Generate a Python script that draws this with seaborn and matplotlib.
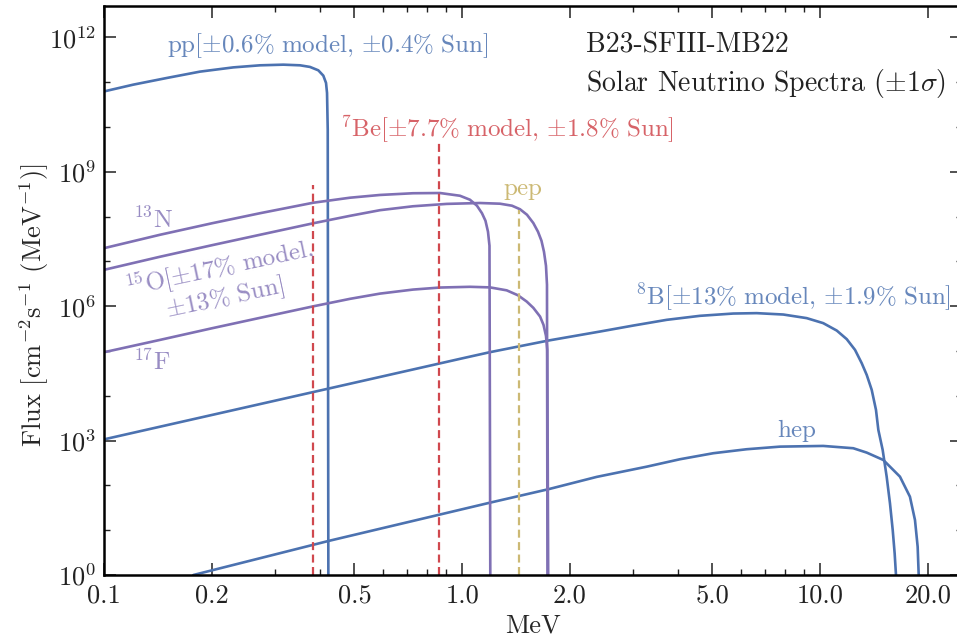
import matplotlib
matplotlib.use("Agg")
import matplotlib.pyplot as plt
import seaborn as sns
from matplotlib.ticker import FixedLocator, FixedFormatter, NullFormatter

# Solar neutrino spectra: energy in MeV, flux in cm^-2 s^-1 MeV^-1
pp_energy = [0.100, 0.1205, 0.1494, 0.1851, 0.2294, 0.2724, 0.3164, 0.3524, 0.3756, 0.3963,
             0.4093, 0.4165, 0.4192, 0.4211, 0.4228]
pp_flux = [6.24e10, 8.81e10, 1.24e11, 1.72e11, 2.14e11, 2.38e11, 2.46e11, 2.38e11, 2.19e11, 1.84e11,
           1.40e11, 9.62e10, 5.74e10, 8.71e9, 0.78]

n13_energy = [0.100, 0.1431, 0.200, 0.2724, 0.3837, 0.486, 0.5893, 0.7289, 0.867, 0.9861,
              1.0515, 1.100, 1.1361, 1.162, 1.1809, 1.1924, 1.1987]
n13_flux = [1.98e7, 3.93e7, 7.10e7, 1.19e8, 2.04e8, 2.64e8, 3.04e8, 3.32e8, 3.36e8, 2.92e8,
            2.38e8, 1.75e8, 1.19e8, 8.07e7, 4.61e7, 2.24e7, 0.77]

o15_energy = [0.100, 0.1431, 0.200, 0.2724, 0.3837, 0.486, 0.5893, 0.7289, 0.9054, 1.1217,
              1.2757, 1.3784, 1.451, 1.5178, 1.581, 1.6293, 1.6661, 1.6932, 1.7152, 1.7263, 1.7318]
o15_flux = [6.50e6, 1.27e7, 2.30e7, 3.93e7, 7.10e7, 1.04e8, 1.39e8, 1.70e8, 1.92e8, 2.01e8,
            1.94e8, 1.75e8, 1.46e8, 1.10e8, 7.18e7, 4.59e7, 2.89e7, 1.64e7, 7.98e6, 3.01e6, 0.77]

f17_energy = [0.100, 0.1431, 0.200, 0.2724, 0.3837, 0.486, 0.5893, 0.7289, 0.867, 1.0517,
              1.1964, 1.332, 1.4327, 1.515, 1.581, 1.651, 1.6879, 1.7152, 1.7297, 1.740]
f17_flux = [9.42e4, 1.77e5, 3.22e5, 5.50e5, 9.94e5, 1.46e6, 1.91e6, 2.35e6, 2.61e6, 2.71e6,
            2.63e6, 2.26e6, 1.75e6, 1.27e6, 9.20e5, 5.88e5, 3.84e5, 2.18e5, 1.06e5, 0.77]

b8_energy = [0.100, 1.000, 1.196, 1.740, 2.428, 3.008, 3.728, 4.620, 5.724, 6.654, 7.898, 9.179,
             10.21, 11.14, 11.88, 12.53, 13.08, 13.51, 13.95, 14.34, 14.56, 14.97, 15.36, 15.69,
             15.97, 16.17, 16.31, 16.34]
b8_flux = [1.07e3, 6.85e4, 9.42e4, 1.71e5, 2.72e5, 3.70e5, 4.96e5, 6.10e5, 6.86e5, 7.0e5, 6.52e5,
           5.42e5, 4.19e5, 2.86e5, 1.84e5, 1.06e5, 5.36e4, 2.93e4, 1.36e4, 4.85e3, 1.73e3, 620,
           157, 40.0, 10.1, 3.05, 1.0, 0.77]

hep_energy = [0.1773, 0.4228, 1.196, 1.740, 2.377, 3.279, 4.062, 5.033, 6.239, 7.73, 10.21,
              12.39, 13.51, 15.03, 16.73, 17.84, 18.43, 18.75, 18.87, 18.90]
hep_flux = [1.0, 5.75, 41.2, 82.1, 155, 262, 384, 523, 642, 734, 761,
            676, 540, 370, 157, 56.1, 16.9, 4.29, 1.09, 0.77]

# Line sources (MeV, cm^-2 s^-1)
be7_energy = [0.384, 0.862]
be7_flux = [5.0e8, 4.4e9]
pep_energy = [1.442]
pep_flux = [1.4e8]

x_major = [0.1, 0.2, 0.5, 1.0, 2.0, 5.0, 10.0, 20.0]
x_major_labels = ["0.1", "0.2", "0.5", "1.0", "2.0", "5.0", "10.0", "20.0"]
x_minor = [0.3, 0.4, 0.6, 0.7, 0.8, 0.9, 3.0, 4.0, 6.0, 7.0, 8.0, 9.0]
y_major = [1e0, 1e3, 1e6, 1e9, 1e12]
y_major_labels = [r"$10^{0}$", r"$10^{3}$", r"$10^{6}$", r"$10^{9}$", r"$10^{12}$"]
y_minor = [1e1, 1e2, 1e4, 1e5, 1e7, 1e8, 1e10, 1e11]

blue = "#4C72B0"
red = "#D0484E"
purple = "#7F70B4"
yellow = "#CCB974"

sns.set_style("ticks")
plt.rcParams["font.family"] = ["cmr10", "DejaVu Serif"]
plt.rcParams["mathtext.fontset"] = "cm"
plt.rcParams["axes.formatter.use_mathtext"] = True

fig = plt.figure(figsize=(9.57, 6.38), dpi=100)
ax = fig.add_axes([0.109, 0.0987, 0.8966, 0.8918])
ax.set_xscale("log")
ax.set_yscale("log")

lw = 1.9
for xs, ys, c in [(pp_energy, pp_flux, blue), (b8_energy, b8_flux, blue),
                  (hep_energy, hep_flux, blue), (n13_energy, n13_flux, purple),
                  (o15_energy, o15_flux, purple), (f17_energy, f17_flux, purple)]:
    sns.lineplot(x=xs, y=ys, ax=ax, color=c, lw=lw, estimator=None)

dash = (0, (3.6, 2.0))
ax.vlines(be7_energy, 1.0, be7_flux, colors=red, lw=1.6, linestyles=[dash])
ax.vlines(pep_energy, 1.0, pep_flux, colors=yellow, lw=1.6, linestyles=[dash])

ax.set_xlim(0.1, 25)
ax.set_ylim(1, 5e12)

ax.xaxis.set_major_locator(FixedLocator(x_major))
ax.xaxis.set_major_formatter(FixedFormatter(x_major_labels))
ax.xaxis.set_minor_locator(FixedLocator(x_minor))
ax.xaxis.set_minor_formatter(NullFormatter())
ax.yaxis.set_major_locator(FixedLocator(y_major))
ax.yaxis.set_major_formatter(FixedFormatter(y_major_labels))
ax.yaxis.set_minor_locator(FixedLocator(y_minor))
ax.yaxis.set_minor_formatter(NullFormatter())

ax.tick_params(which="both", direction="in", top=True, right=True, colors="#222222")
ax.tick_params(which="major", length=8.5, width=1.1, labelsize=19, pad=6)
ax.tick_params(which="minor", length=4.5, width=1.0)
for s in ax.spines.values():
    s.set_linewidth(1.8)
    s.set_color("black")

ax.set_xlabel("MeV", fontsize=19, labelpad=5)
ax.set_ylabel(r"Flux [cm$^{-2}$s$^{-1}$ (MeV$^{-1}$)]", fontsize=19)
ax.yaxis.set_label_coords(-0.062, 0.475)

fs = 18
ax.text(0.1497, 10**11.66, r"$\mathrm{pp}[{\pm}0.6\%\ \mathrm{model},\,{\pm}0.4\%\ \mathrm{Sun}]$",
        color=blue, fontsize=fs, va="baseline", alpha=0.85)
ax.text(0.456, 10**9.78, r"${}^{7}\mathrm{Be}[{\pm}7.7\%\ \mathrm{model},\,{\pm}1.8\%\ \mathrm{Sun}]$",
        color=red, fontsize=fs, va="baseline", alpha=0.85)
ax.text(1.30, 10**8.49, r"$\mathrm{pep}$", color=yellow, fontsize=fs, va="baseline")
ax.text(0.1203, 10**7.75, r"${}^{13}\mathrm{N}$", color=purple, fontsize=fs, va="baseline", alpha=0.8)
ax.text(0.1203, 10**4.58, r"${}^{17}\mathrm{F}$", color=purple, fontsize=fs, va="baseline", alpha=0.8)
ax.text(0.2132, 10**6.52,
        r"${}^{15}\mathrm{O}[{\pm}17\%\ \mathrm{model},$" + "\n" + r"${\pm}13\%\ \mathrm{Sun}]$",
        color=purple, fontsize=fs, ha="center", va="center", rotation=12,
        rotation_mode="anchor", multialignment="center", linespacing=1.0, alpha=0.8)
ax.text(3.04, 10**6.03, r"${}^{8}\mathrm{B}[{\pm}13\%\ \mathrm{model},\,{\pm}1.9\%\ \mathrm{Sun}]$",
        color=blue, fontsize=fs, va="baseline", alpha=0.85)
ax.text(7.57, 10**3.07, r"$\mathrm{hep}$", color=blue, fontsize=fs, va="baseline", alpha=0.85)

ax.text(0.5614, 0.918, "B23-SFIII-MB22", transform=ax.transAxes, fontsize=20,
        va="baseline", color="#222222")
ax.text(0.5614, 0.851, r"Solar Neutrino Spectra $({\pm}1\sigma)$", transform=ax.transAxes,
        fontsize=20, va="baseline", color="#222222")

fig.savefig("out.png", dpi=100)
